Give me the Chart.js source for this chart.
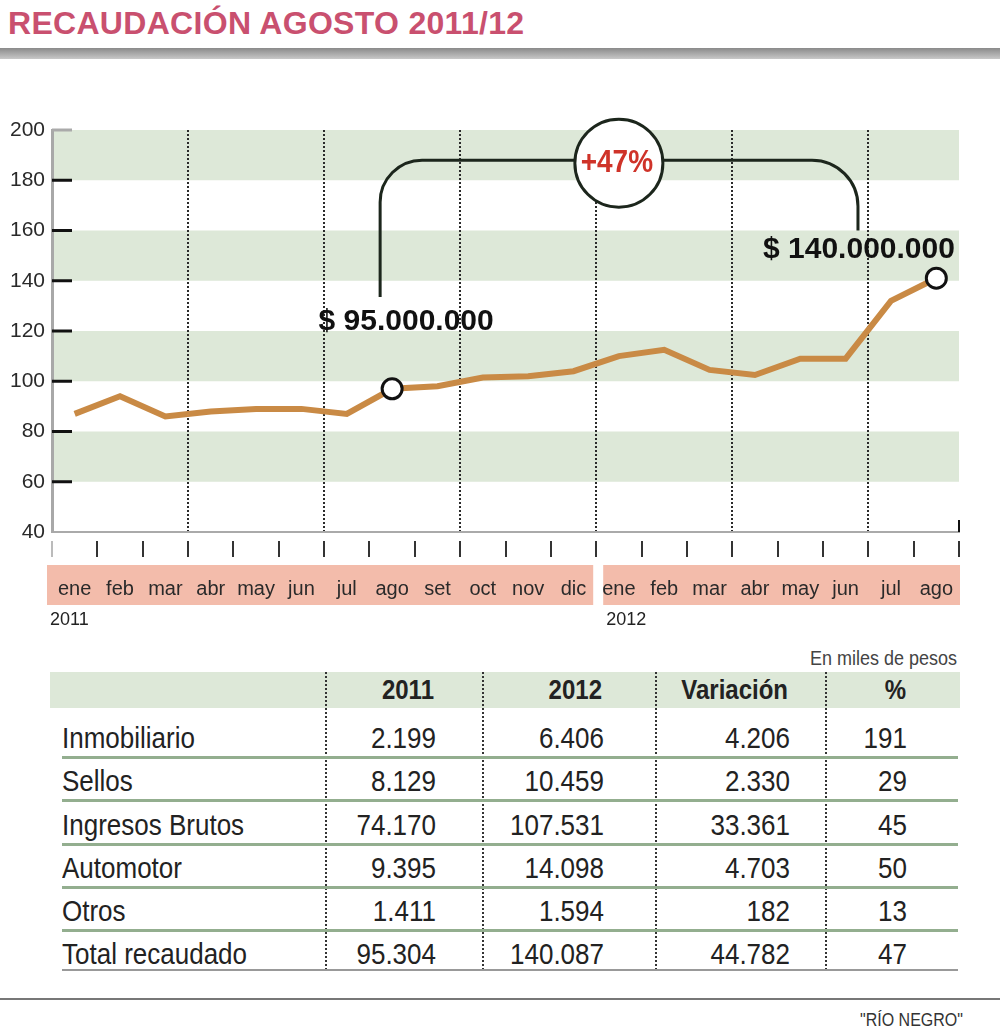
<!DOCTYPE html>
<html><head><meta charset="utf-8">
<script src="https://cdn.jsdelivr.net/npm/chart.js@4.4.0/dist/chart.umd.min.js"></script>
<style>
html,body{margin:0;padding:0;background:#fff;}
#wrap{position:relative;width:1000px;height:1034px;overflow:hidden;background:#fff;}
.t{position:absolute;white-space:nowrap;color:#222;font-family:"Liberation Sans",Arial,sans-serif;transform:scale(1,1.14);transform-origin:50% 50%;}
#title{position:absolute;left:8px;top:5px;font:bold 32px "Liberation Sans",Arial,sans-serif;color:#c9506f;letter-spacing:0.3px;white-space:nowrap;}
#bar{position:absolute;left:0;top:48px;width:1000px;height:11px;background:linear-gradient(#8a8a8a,#c8c8c8);}
#chart{position:absolute;left:0;top:0;}
.hdr{position:absolute;left:50px;top:672px;width:910px;height:36px;background:#dde8d8;}
.sep{position:absolute;left:62px;width:896px;height:3px;background:#93ae8f;}
.vd{position:absolute;top:672px;height:298px;width:0;border-left:2px dotted #333;}
#foot{position:absolute;left:0;top:998px;width:1000px;height:2px;background:#777;}
</style></head>
<body><div id="wrap">
<div id="title">RECAUDACIÓN AGOSTO 2011/12</div>
<div id="bar"></div>
<canvas id="chart" width="1000" height="640"></canvas>
<div id="foot"></div>
<div class="t" style="left:860px;top:1010px;font-size:16px;line-height:20px;color:#333;">"RÍO NEGRO"</div>
</div>
<script>
// ---- chart data ----
const months = ['ene','feb','mar','abr','may','jun','jul','ago','set','oct','nov','dic','ene','feb','mar','abr','may','jun','jul','ago'];
const years = ['2011','2012'];
const recaudacion = [87,94,86,88,89,89,87,97,98,101.5,102,104,110,112.5,104.5,102.5,109,109,132,141];
const markedIdx = [7,19];
const yMin = 40, yMax = 200, yStep = 20;
const labelStart = '$ 95.000.000';
const labelEnd = '$ 140.000.000';
const pctLabel = '+47%';

// ---- table data ----
const unitNote = 'En miles de pesos';
const tableHeaders = ['2011','2012','Variación','%'];
const rowLabels = ['Inmobiliario','Sellos','Ingresos Brutos','Automotor','Otros','Total recaudado'];
const col2011 = ['2.199','8.129','74.170','9.395','1.411','95.304'];
const col2012 = ['6.406','10.459','107.531','14.098','1.594','140.087'];
const colVar = ['4.206','2.330','33.361','4.703','182','44.782'];
const colPct = ['191','29','45','50','13','47'];

// ---- build table ----
(function(){
  const wrap = document.getElementById('wrap');
  function add(html){ wrap.insertAdjacentHTML('beforeend', html); }
  add('<div class="hdr"></div>');
  add('<div class="t" style="right:43px;top:647px;font-size:18px;line-height:22px;color:#444;">'+unitNote+'</div>');
  [325,482,655,825].forEach(x=>add('<div class="vd" style="left:'+x+'px"></div>'));
  const rightEdges = [436,604,790,907];
  const hdrEdges = [434,602,788,906];
  tableHeaders.forEach((h,i)=>{
    add('<div class="t" style="right:'+(1000-hdrEdges[i])+'px;top:676px;font-size:24px;line-height:28px;font-weight:bold;transform:scale(1,1.18);">'+h+'</div>');
  });
  const rowY = [738,781,825,868,911,954];
  const sepY = [756,799,843,886,929];
  sepY.forEach(y=>add('<div class="sep" style="top:'+y+'px"></div>'));
  add('<div class="sep" style="top:969px;height:2px;background:#999"></div>');
  const cols = [col2011,col2012,colVar,colPct];
  rowLabels.forEach((lab,r)=>{
    const top = rowY[r]-15;
    add('<div class="t" style="left:62px;top:'+top+'px;font-size:26px;line-height:30px;">'+lab+'</div>');
    cols.forEach((c,i)=>{
      add('<div class="t" style="right:'+(1000-rightEdges[i])+'px;top:'+top+'px;font-size:26px;line-height:30px;">'+c[r]+'</div>');
    });
  });
})();

const SANS = '"Liberation Sans",Arial,sans-serif';

const decor = {
  id:'decor',
  beforeDraw(chart){
    const {ctx, chartArea:a, scales:{x,y}} = chart;
    ctx.save();
    ctx.fillStyle = '#dde8d8';
    for (let v = 60; v < yMax; v += 40){
      const t = y.getPixelForValue(v+20), b = y.getPixelForValue(v);
      ctx.fillRect(a.left, t, a.right-a.left, b-t);
    }
    const mid = (x.getPixelForValue(11)+x.getPixelForValue(12))/2;
    ctx.fillStyle = '#f3bcab';
    ctx.fillRect(a.left-5, a.bottom+33, (mid-3)-(a.left-5), 40);
    ctx.fillRect(mid+7, a.bottom+33, (a.right+1)-(mid+7), 40);
    ctx.restore();
  },
  afterDraw(chart){
    const {ctx, chartArea:a, scales:{x,y}} = chart;
    ctx.save();
    // y tick dashes
    for (let v = yMin+yStep; v <= yMax; v += yStep){
      const py = y.getPixelForValue(v);
      ctx.strokeStyle = v === yMax ? '#aaa' : '#111';
      ctx.lineWidth = 3;
      ctx.beginPath(); ctx.moveTo(a.left, py); ctx.lineTo(a.left+20, py); ctx.stroke();
    }
    // right end tick
    ctx.strokeStyle = '#111'; ctx.lineWidth = 2;
    ctx.beginPath(); ctx.moveTo(a.right, a.bottom-12); ctx.lineTo(a.right, a.bottom); ctx.stroke();
    // year labels
    const mid = (x.getPixelForValue(11)+x.getPixelForValue(12))/2;
    ctx.fillStyle = '#222';
    ctx.font = '18px '+SANS;
    ctx.textBaseline = 'middle'; ctx.textAlign = 'left';
    ctx.fillText(years[0], a.left-2, a.bottom+88);
    ctx.fillText(years[1], mid+10, a.bottom+88);
    // bracket
    const xl = x.getPixelForValue(7)-12, xr = x.getPixelForValue(18)-33;
    const yh = y.getPixelForValue(188), ylb = y.getPixelForValue(133.5), yrb = y.getPixelForValue(160);
    const cx = x.getPixelForValue(12), cy = y.getPixelForValue(186.8), r = 44;
    ctx.strokeStyle = '#1c261c'; ctx.lineWidth = 3;
    ctx.beginPath(); ctx.moveTo(xl, ylb); ctx.lineTo(xl, yh+42); ctx.arcTo(xl, yh, xl+42, yh, 42); ctx.lineTo(cx-r, yh); ctx.stroke();
    ctx.beginPath(); ctx.moveTo(cx+r, yh); ctx.lineTo(xr-46, yh); ctx.arcTo(xr, yh, xr, yh+46, 46); ctx.lineTo(xr, yrb); ctx.stroke();
    ctx.beginPath(); ctx.arc(cx, cy, r, 0, Math.PI*2); ctx.fillStyle = '#fff'; ctx.fill(); ctx.stroke();
    ctx.fillStyle = '#cf3329'; ctx.textAlign = 'center';
    ctx.font = 'bold 28px '+SANS;
    ctx.save(); ctx.translate(cx-2, cy); ctx.scale(1, 1.15);
    ctx.fillText(pctLabel, 0, 0);
    ctx.restore();
    // value labels
    ctx.fillStyle = '#111';
    ctx.font = 'bold 30px '+SANS;
    ctx.fillText(labelStart, x.getPixelForValue(7)+14, y.getPixelForValue(123.7));
    ctx.fillText(labelEnd, x.getPixelForValue(18)-32, y.getPixelForValue(152.4));
    ctx.restore();
  }
};

new Chart(document.getElementById('chart'), {
  type:'line',
  data:{
    labels: months,
    datasets:[
      {data: recaudacion, borderColor:'#c98a45', borderWidth:6, tension:0, fill:false,
       pointRadius: c => markedIdx.includes(c.dataIndex) ? 10 : 0,
       pointBackgroundColor:'#fff', pointBorderColor:'#111', pointBorderWidth:3}
    ]
  },
  options:{
    responsive:false, animation:false, devicePixelRatio:1,
    layout:{padding:{top:130, right:41, left:0, bottom:0}},
    plugins:{legend:{display:false}, tooltip:{enabled:false}},
    scales:{
      x:{
        offset:true,
        grid:{offset:true, lineWidth:2,
          color: c => (c.index%3===0 && c.index>0 && c.index<months.length) ? '#2a2a2a' : 'rgba(0,0,0,0)',
          drawTicks:true, tickLength:25, tickWidth:2,
          tickColor: c => (c.index===0 || c.index===months.length) ? '#bbb' : '#333',
          tickBorderDash:[0,8,17,60]},
        border:{color:'#aaa', width:2, dash:[2,2]},
        ticks:{font:{size:20, family:SANS}, color:'#2a2a2a', padding:20, maxRotation:0, autoSkip:false},
        afterFit: s => { s.height = 108; }
      },
      y:{
        min:yMin, max:yMax,
        ticks:{stepSize:yStep, padding:7, font:{size:21, family:SANS}, color:'#2a2a2a'},
        grid:{drawOnChartArea:false, drawTicks:false},
        border:{color:'#a8a8a8', width:3},
        afterFit: s => { s.width = 52; }
      }
    }
  },
  plugins:[decor]
});
</script>
</body></html>
